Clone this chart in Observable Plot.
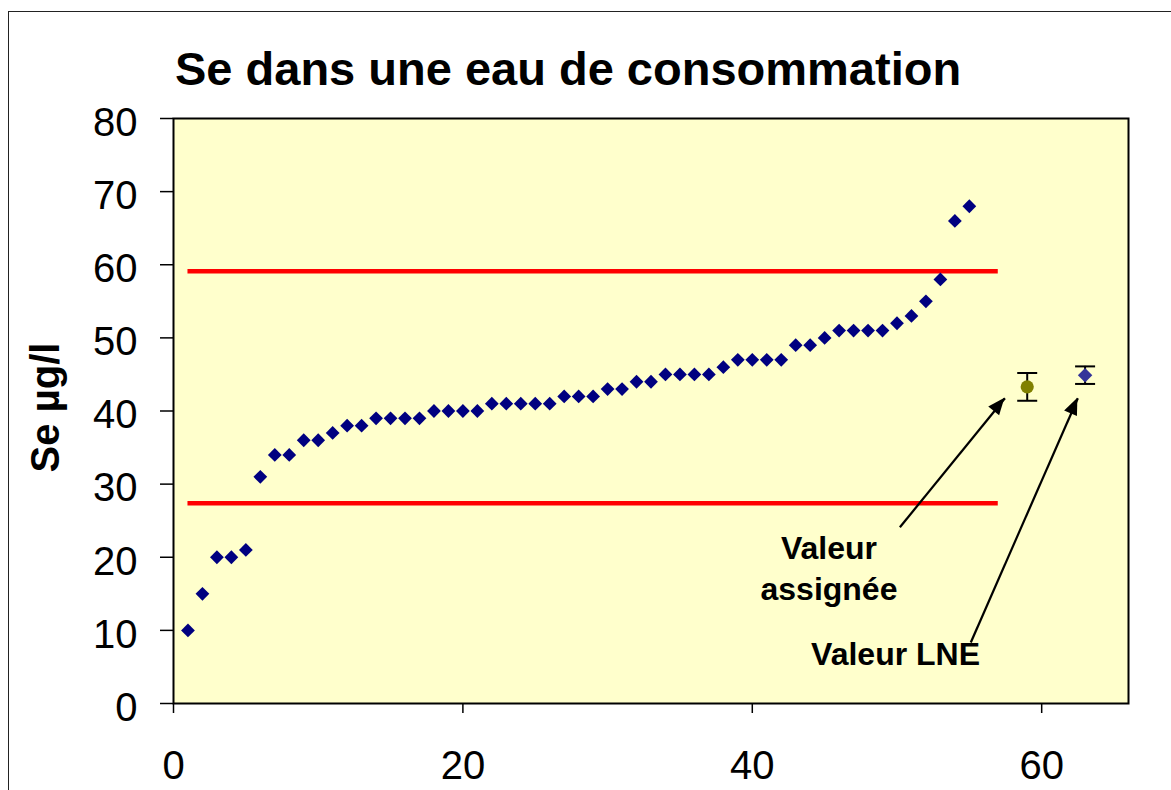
<!DOCTYPE html>
<html>
<head>
<meta charset="utf-8">
<script src="https://cdn.jsdelivr.net/npm/d3@7"></script>
<script src="https://cdn.jsdelivr.net/npm/@observablehq/plot@0.6"></script>
<style>
html, body { margin: 0; padding: 0; background: #fff; overflow: hidden; }
#wrap { position: relative; width: 1171px; height: 790px; overflow: hidden; font-family: "Liberation Sans", Arial, sans-serif; }
#chart { position: absolute; left: 0; top: 0; }
#border { position: absolute; left: 8px; top: 11px; width: 1300px; height: 900px; border: 1.5px solid #222; pointer-events: none; }
#title { position: absolute; left: 175px; top: 46px; font-size: 47px; font-weight: bold; line-height: 46px; white-space: nowrap; color: #000; }
</style>
</head>
<body>
<div id="wrap">
  <div id="chart"></div>
  <div id="title">Se dans une eau de consommation</div>
  <div id="border"></div>
</div>
<script>
// ---- data ----
const titleText = "Se dans une eau de consommation";
const yLabel = "Se µg/l";
const participantValues = [10, 15, 20, 20, 21, 31, 34, 34, 36, 36, 37, 38, 38, 39, 39, 39, 39, 40, 40, 40, 40,
  41, 41, 41, 41, 41, 42, 42, 42, 43, 43, 44, 44, 45, 45, 45, 45, 46, 47, 47, 47, 47, 49, 49, 50,
  51, 51, 51, 51, 52, 53, 55, 58, 66, 68];
const limitValues = [27.4, 59.1];
const limitRange = [1, 57];
const assigned = [{x: 59, y: 43.3, err: 1.9}];
const lne = [{x: 63, y: 44.9, err: 1.2}];
const xTicks = [0, 20, 40, 60];
const yTicks = [0, 10, 20, 30, 40, 50, 60, 70, 80];
const xDomain = [0, 66];
const yDomain = [0, 80];
const annotationTexts = [
  {label: "Valeur", x: 45.3, y: 19.8},
  {label: "assignée", x: 45.3, y: 14.1},
  {label: "Valeur LNE", x: 49.9, y: 5.2}
];
const arrows = [
  {x1: 50.2, y1: 24.1, x2: 57.46, y2: 41.75},
  {x1: 55.1, y1: 8.35, x2: 62.5, y2: 41.75}
];

// ---- derived tables ----
const points = participantValues.map((v, i) => ({x: i + 1, y: v}));
const limits = limitValues.map(v => ({y: v, x1: limitRange[0], x2: limitRange[1]}));
const refs = assigned.concat(lne);

const capSymbol = {
  draw(ctx, size) {
    const r = Math.sqrt(size / Math.PI);
    ctx.moveTo(-r, 0);
    ctx.lineTo(r, 0);
  }
};

function arrowHeads(index, scales) {
  const g = d3.create("svg:g");
  for (const a of arrows) {
    const x1 = scales.x(a.x1), y1 = scales.y(a.y1), x2 = scales.x(a.x2), y2 = scales.y(a.y2);
    const ang = Math.atan2(y2 - y1, x2 - x1);
    const L = 17, W = 7;
    const bx = x2 - L * Math.cos(ang), by = y2 - L * Math.sin(ang);
    const px = -Math.sin(ang) * W, py = Math.cos(ang) * W;
    g.append("path")
      .attr("d", `M${x2},${y2}L${bx + px},${by + py}L${bx - px},${by - py}Z`)
      .attr("fill", "black");
  }
  return g.node();
}

const chart = Plot.plot({
  width: 1171,
  height: 790,
  marginLeft: 173,
  marginRight: 43,
  marginTop: 118,
  marginBottom: 87,
  x: {domain: xDomain},
  y: {domain: yDomain},
  style: {fontFamily: "'Liberation Sans', Arial, sans-serif", fontSize: "40px", background: "transparent", color: "#000"},
  marks: [
    Plot.frame({fill: "#FFFFCC", stroke: "none"}),
    Plot.axisY({ticks: yTicks, tickSize: 13, fill: "none", strokeWidth: 1.5, label: null}),
    Plot.axisY({ticks: yTicks, tickSize: 13, tickPadding: 23, dy: 4.5, stroke: "none", fill: "black", label: null, fontSize: 40}),
    Plot.axisX({ticks: xTicks, tickSize: 10, fill: "none", strokeWidth: 1.5, label: null}),
    Plot.axisX({ticks: xTicks, tickSize: 10, tickPadding: 37, stroke: "none", fill: "black", label: null, fontSize: 40}),
    Plot.ruleY(limits, {y: "y", x1: "x1", x2: "x2", stroke: "#FF0000", strokeWidth: 4.5}),
    Plot.dot(points, {x: "x", y: "y", symbol: "diamond2", r: 6.2, fill: "#000080", stroke: "none"}),
    Plot.ruleX(refs, {x: "x", y1: d => d.y - d.err, y2: d => d.y + d.err, stroke: "black", strokeWidth: 2}),
    Plot.dot(refs, {x: "x", y: d => d.y - d.err, symbol: capSymbol, r: 10, fill: "none", stroke: "black", strokeWidth: 2}),
    Plot.dot(refs, {x: "x", y: d => d.y + d.err, symbol: capSymbol, r: 10, fill: "none", stroke: "black", strokeWidth: 2}),
    Plot.dot(assigned, {x: "x", y: "y", r: 6.6, fill: "#808000", stroke: "none"}),
    Plot.dot(lne, {x: "x", y: "y", symbol: "diamond2", r: 6.5, fill: "#333399", stroke: "none"}),
    Plot.link(arrows, {x1: "x1", y1: "y1", x2: "x2", y2: "y2", stroke: "black", strokeWidth: 2.2}),
    arrowHeads,
    Plot.text(annotationTexts, {x: "x", y: "y", text: "label", textAnchor: "middle", lineAnchor: "bottom", fontSize: 32, fontWeight: "bold", fill: "black"}),
    Plot.text([yLabel], {frameAnchor: "left", textAnchor: "middle", dx: -127.5, dy: -3.5, rotate: -90, fontSize: 40, fontWeight: "bold", fill: "black"}),
    Plot.frame({stroke: "black", strokeWidth: 2})
  ]
});
document.getElementById("chart").appendChild(chart);
document.getElementById("title").textContent = titleText;
</script>
</body>
</html>
